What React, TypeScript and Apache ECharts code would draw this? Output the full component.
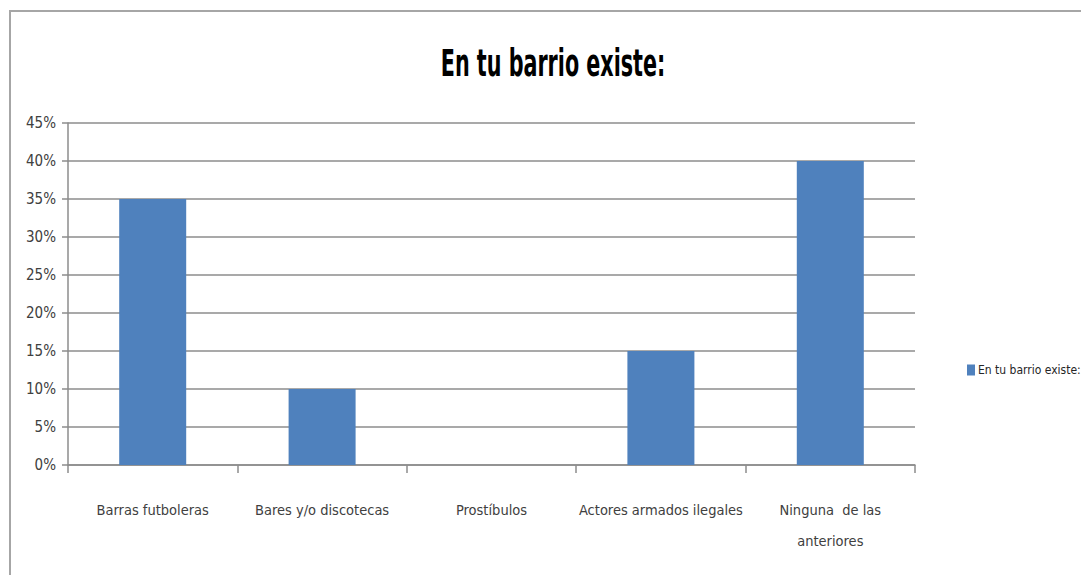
import React, { useEffect, useRef } from "react";
import * as echarts from "echarts";

const titleText = "En tu barrio existe:";
const seriesName = "En tu barrio existe:";
const categories = [
  "Barras futboleras",
  "Bares y/o discotecas",
  "Prostíbulos",
  "Actores armados ilegales",
  "Ninguna  de las\nanteriores",
];
const values = [35, 10, 0, 15, 40];

const FONT = "'DejaVu Sans Condensed', 'Liberation Sans Narrow', sans-serif";

export default function App() {
  const ref = useRef<HTMLDivElement>(null);
  useEffect(() => {
    document.body.style.margin = "0";
    const chart = echarts.init(ref.current!, null, { renderer: "svg" });
    chart.setOption({
      animation: false,
      backgroundColor: "#ffffff",
      textStyle: { fontFamily: FONT },
      graphic: [
        {
          type: "rect",
          shape: { x: 10, y: 11, width: 1200, height: 700 },
          style: { fill: "none", stroke: "#a6a6a6", lineWidth: 2 },
          silent: true,
        },
        {
          type: "text",
          x: 553,
          y: 63,
          scaleY: 1.6,
          style: {
            text: titleText,
            fill: "#000000",
            font: `bold 23px ${FONT}`,
            textAlign: "center",
            textVerticalAlign: "middle",
          },
        },
      ],
      legend: {
        data: [seriesName],
        left: 962,
        top: 359,
        icon: "rect",
        itemWidth: 8,
        itemHeight: 11,
        itemGap: 4,
        textStyle: { fontFamily: FONT, fontSize: 12, color: "#262626", padding: [0, 0, 0, -2] },
      },
      grid: { left: 68, right: 166, top: 123, bottom: 110 },
      xAxis: {
        type: "category",
        data: categories,
        axisLine: { lineStyle: { color: "#8c8c8c", width: 1.5 } },
        axisTick: { show: true, alignWithLabel: false, length: 8, lineStyle: { color: "#8c8c8c", width: 1.5 } },
        axisLabel: {
          fontFamily: FONT,
          fontSize: 14.5,
          color: "#404040",
          margin: 29,
          lineHeight: 31,
          interval: 0,
        },
      },
      yAxis: {
        type: "value",
        min: 0,
        max: 45,
        interval: 5,
        axisLine: { show: true, lineStyle: { color: "#8c8c8c", width: 1.5 } },
        axisTick: { show: true, length: 6, lineStyle: { color: "#8c8c8c", width: 1.5 } },
        splitLine: { lineStyle: { color: "#8c8c8c", width: 1.5 } },
        axisLabel: {
          fontFamily: FONT,
          fontSize: 15,
          color: "#404040",
          margin: 12,
          formatter: (v: number) => `${v}%`,
        },
      },
      series: [
        {
          name: seriesName,
          type: "bar",
          data: values,
          barWidth: 67,
          itemStyle: { color: "#4f81bd" },
        },
      ],
    });
    return () => chart.dispose();
  }, []);
  return <div ref={ref} style={{ width: 1081, height: 575 }} />;
}
